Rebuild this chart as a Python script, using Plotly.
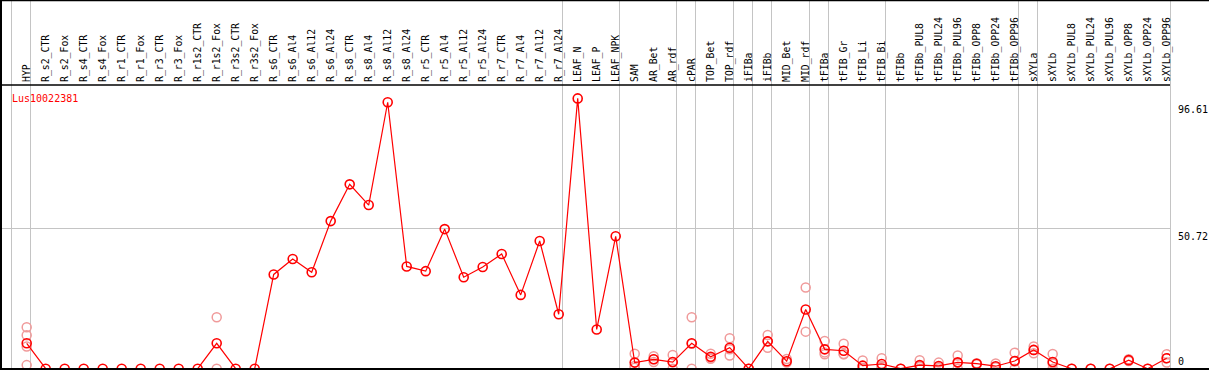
import plotly.graph_objects as go

categories = [
    "HYP", "R_s2_CTR", "R_s2_Fox", "R_s4_CTR", "R_s4_Fox", "R_r1_CTR", "R_r1_Fox",
    "R_r3_CTR", "R_r3_Fox", "R_r1s2_CTR", "R_r1s2_Fox", "R_r3s2_CTR", "R_r3s2_Fox",
    "R_s6_CTR", "R_s6_Al4", "R_s6_Al12", "R_s6_Al24", "R_s8_CTR", "R_s8_Al4",
    "R_s8_Al12", "R_s8_Al24", "R_r5_CTR", "R_r5_Al4", "R_r5_Al12", "R_r5_Al24",
    "R_r7_CTR", "R_r7_Al4", "R_r7_Al12", "R_r7_Al24", "LEAF_N", "LEAF_P", "LEAF_NPK",
    "SAM", "AR_Bet", "AR_rdf", "cPAR", "TOP_Bet", "TOP_rdf", "iFIBa", "iFIBb",
    "MID_Bet", "MID_rdf", "tFIBa", "tFIB_Gr", "tFIB_Li", "tFIB_Bi", "tFIBb",
    "tFIBb_PUL8", "tFIBb_PUL24", "tFIBb_PUL96", "tFIBb_OPP8", "tFIBb_OPP24",
    "tFIBb_OPP96", "sXYLa", "sXYLb", "sXYLb_PUL8", "sXYLb_PUL24", "sXYLb_PUL96",
    "sXYLb_OPP8", "sXYLb_OPP24", "sXYLb_OPP96",
]

means = [
    9.2, 0, 0, 0, 0, 0, 0, 0, 0, 0, 9.2, 0, 0,
    34.1, 39.7, 34.9, 53.4, 66.7, 59.2, 96.4, 37.0, 35.3, 50.5, 33.1, 36.8,
    41.5, 26.7, 46.2, 19.7, 97.8, 14.2, 47.9,
    2.2, 3.4, 2.4, 9.2, 4.3, 7.6, 0, 9.9, 2.7, 21.4, 7.0, 6.5, 1.1, 1.7, 0,
    1.3, 1.0, 2.3, 1.8, 0.9, 2.8, 6.8, 2.4, 0, 0, 0, 3.1, 0, 3.8,
]

replicates = [
    [15.0, 12.1, 8.0, 1.3], [], [], [], [], [], [], [], [], [], [18.6, 0], [], [],
    [], [], [], [], [], [], [], [], [], [], [], [],
    [], [], [], [], [], [], [],
    [5.4, 1.0, 0.3], [4.5, 3.4, 2.4], [5.0, 2.3, 0], [18.6, 9.0, 0], [5.4, 4.0, 3.6],
    [11.0, 7.0, 4.8], [0], [12.2, 9.9, 7.6], [3.5, 2.2], [29.4, 13.4], [10.0, 5.9, 5.2],
    [9.0, 5.2, 5.3], [3.0, 0.3, 0], [3.8, 1.0, 0.3], [0],
    [3.1, 0.8, 0], [2.2, 0.6, 0.2], [4.8, 2.1, 0], [2.0, 1.6], [1.9, 0.5], [5.8, 2.6, 0],
    [8.0, 6.8, 5.6], [5.3, 1.9, 0], [0], [0], [0], [3.4, 2.8], [0], [5.2, 3.8, 2.2],
]

# group separators drawn just after these category indices (-1 = before the first)
separators_after = [-1, 0, 28, 31, 34, 35, 37, 38, 39, 41, 42, 45, 52, 53, 60]

gene_label = "Lus10022381"
scale_values = [96.61, 50.72, 0]
scale_labels = ["96.61", "50.72", "0"]
grid_values = [50.72]

RED = "#ff0000"
PINK = "#f09a9a"
GREY = "#c4c4c4"
FONT = "DejaVu Sans Mono"

rep_x, rep_y = [], []
for cat, reps in zip(categories, replicates):
    for r in reps:
        rep_x.append(cat)
        rep_y.append(r)

x_range = [-1.3526, 60.174]
y_range = [-0.11, 102.64]

fig = go.Figure()
fig.add_trace(go.Scatter(
    x=rep_x, y=rep_y, mode="markers",
    marker=dict(symbol="circle-open", size=9, color=PINK, line=dict(width=1.5, color=PINK)),
    hoverinfo="skip", showlegend=False,
))
fig.add_trace(go.Scatter(
    x=categories, y=means, mode="lines+markers",
    line=dict(color=RED, width=1.2),
    marker=dict(symbol="circle-open", size=9, color=RED, line=dict(width=1.6, color=RED)),
    showlegend=False,
))

span = x_range[1] - x_range[0]
shapes = []
# top of the image in paper coordinates (plot area spans 85..369 px)
top_paper = 369 / 284
for s in separators_after:
    xp = (s + 0.2 - x_range[0]) / span
    shapes.append(dict(type="line", xref="paper", yref="paper", x0=xp, x1=xp,
                       y0=0, y1=top_paper, line=dict(color=GREY, width=1), layer="below"))
for gv in grid_values:
    shapes.append(dict(type="line", xref="paper", yref="y", x0=0, x1=1, y0=gv, y1=gv,
                       line=dict(color=GREY, width=1.2), layer="below"))
# frame lines
left_p = -1 / 1169
right_p = 1208 / 1169
shapes += [
    dict(type="line", xref="paper", yref="paper", x0=left_p, x1=right_p,
         y0=top_paper - 0.5 / 284, y1=top_paper - 0.5 / 284,
         line=dict(color="black", width=1.5)),
    dict(type="line", xref="paper", yref="paper", x0=0, x1=1, y0=1, y1=1,
         line=dict(color="black", width=1.5)),
    dict(type="line", xref="paper", yref="paper", x0=left_p, x1=right_p, y0=0, y1=0,
         line=dict(color="black", width=2)),
    dict(type="line", xref="paper", yref="paper", x0=0, x1=0, y0=0, y1=top_paper,
         line=dict(color="black", width=2)),
]

annotations = [dict(
    text=gene_label, xref="paper", yref="paper", x=9 / 1169, y=1 - 6 / 284,
    xanchor="left", yanchor="top", showarrow=False,
    font=dict(family=FONT, size=10, color=RED),
)]
for v, t in zip(scale_values, scale_labels):
    annotations.append(dict(
        text=t, xref="paper", yref="y", x=1, y=v, xanchor="left",
        yanchor="bottom" if v == 0 else "top", xshift=6,
        showarrow=False, font=dict(family=FONT, size=10, color="black"),
    ))

fig.update_layout(
    width=1209, height=370,
    margin=dict(l=1, r=39, t=85, b=1, pad=0),
    paper_bgcolor="white", plot_bgcolor="white",
    xaxis=dict(
        type="category", side="top", range=x_range,
        categoryorder="array", categoryarray=categories,
        tickmode="array", tickvals=categories, ticktext=categories,
        tickangle=-90, tickfont=dict(family=FONT, size=9.8, color="black"),
        showgrid=False, zeroline=False, showline=False, ticks="", ticklabelstandoff=2,
    ),
    yaxis=dict(range=y_range, showgrid=False, zeroline=False, showticklabels=False,
               showline=False, ticks=""),
    shapes=shapes, annotations=annotations,
)

fig.write_html(
    "out.html",
    config={"displayModeBar": False},
    post_script="document.body.style.margin='0';document.body.style.overflow='hidden';",
)
